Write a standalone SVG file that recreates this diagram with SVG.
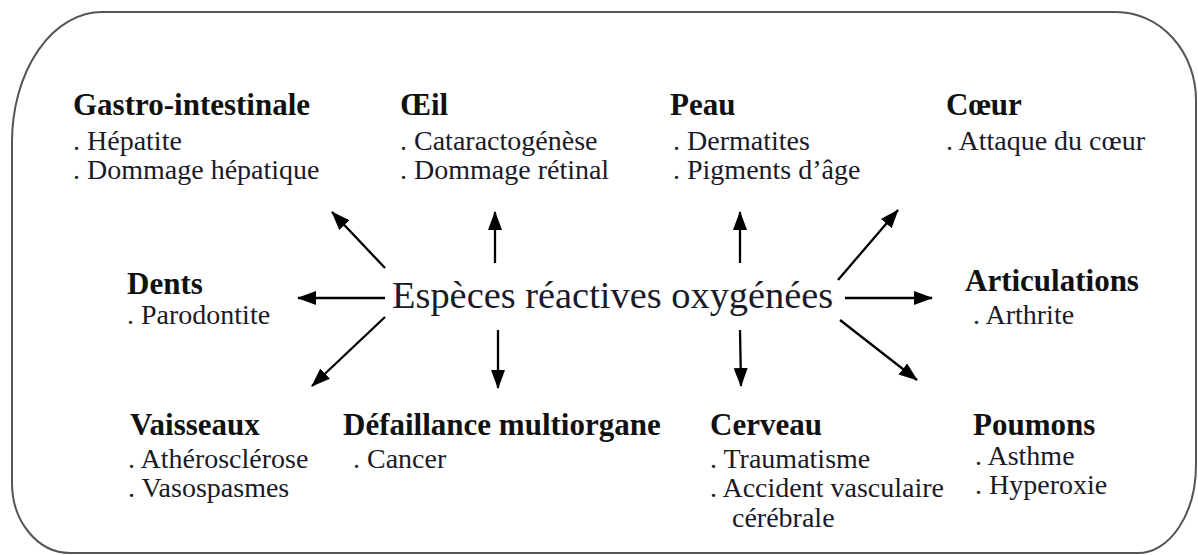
<svg xmlns="http://www.w3.org/2000/svg" width="1198" height="555" viewBox="0 0 1198 555">
  <defs>
    <marker id="ah" markerUnits="userSpaceOnUse" markerWidth="19" markerHeight="17" viewBox="0 0 19 17" refX="18" refY="8.5" orient="auto">
      <path d="M0,1.5 L19,8.5 L0,15.5 Z" fill="#000"/>
    </marker>
    <style>
      .h { font-family: "Liberation Serif", "Times New Roman", serif; font-weight: bold; font-size: 31px; fill: #111; }
      .i { font-family: "Liberation Serif", "Times New Roman", serif; font-size: 28px; fill: #1a1a28; }
      .c { font-family: "Liberation Serif", "Times New Roman", serif; font-size: 38.4px; fill: #1a1a28; }
      .arr line { stroke: #000; stroke-width: 2.3; marker-end: url(#ah); }
    </style>
  </defs>
  <rect width="1198" height="555" fill="#fff"/>
  <path id="frame" d="M102,12 H1116 A80,88 0 0 1 1196,100 V465 A58,88 0 0 1 1138,553 H70 A58,70 0 0 1 12,483 V142 A90,130 0 0 1 102,12 Z" fill="none" stroke="#555" stroke-width="2"/>

  <g id="center"><text class="c" x="392" y="308">Espèces réactives oxygénées</text></g>

  <g id="connectors" class="arr">
    <line x1="385" y1="268" x2="332" y2="212"/>
    <line x1="495" y1="263" x2="495" y2="212"/>
    <line x1="740" y1="263" x2="740" y2="212"/>
    <line x1="838" y1="280" x2="898" y2="210"/>
    <line x1="385" y1="298" x2="298" y2="298"/>
    <line x1="845" y1="298" x2="932" y2="298"/>
    <line x1="385" y1="317" x2="312" y2="386"/>
    <line x1="498" y1="330" x2="498" y2="388"/>
    <line x1="740" y1="330" x2="741" y2="386"/>
    <line x1="840" y1="320" x2="917" y2="380"/>
  </g>

  <g id="gastro">
    <text class="h" x="73" y="115">Gastro-intestinale</text>
    <text class="i" x="73" y="150">. Hépatite</text>
    <text class="i" x="73" y="179">. Dommage hépatique</text>
  </g>
  <g id="oeil">
    <text class="h" x="400" y="115">Œil</text>
    <text class="i" x="400" y="150">. Cataractogénèse</text>
    <text class="i" x="400" y="179">. Dommage rétinal</text>
  </g>
  <g id="peau">
    <text class="h" x="670" y="115">Peau</text>
    <text class="i" x="673" y="150">. Dermatites</text>
    <text class="i" x="673" y="179">. Pigments d’âge</text>
  </g>
  <g id="coeur">
    <text class="h" x="946" y="115">Cœur</text>
    <text class="i" x="946" y="150">. Attaque du cœur</text>
  </g>
  <g id="dents">
    <text class="h" x="127" y="294">Dents</text>
    <text class="i" x="127" y="324">. Parodontite</text>
  </g>
  <g id="articulations">
    <text class="h" x="965" y="291">Articulations</text>
    <text class="i" x="973" y="324">. Arthrite</text>
  </g>
  <g id="vaisseaux">
    <text class="h" x="130" y="435">Vaisseaux</text>
    <text class="i" x="128" y="468">. Athérosclérose</text>
    <text class="i" x="128" y="497">. Vasospasmes</text>
  </g>
  <g id="defaillance">
    <text class="h" x="343" y="435">Défaillance multiorgane</text>
    <text class="i" x="353" y="468">. Cancer</text>
  </g>
  <g id="cerveau">
    <text class="h" x="710" y="435">Cerveau</text>
    <text class="i" x="710" y="468">. Traumatisme</text>
    <text class="i" x="710" y="497">. Accident vasculaire</text>
    <text class="i" x="732" y="527">cérébrale</text>
  </g>
  <g id="poumons">
    <text class="h" x="973" y="435">Poumons</text>
    <text class="i" x="975" y="465">. Asthme</text>
    <text class="i" x="975" y="494">. Hyperoxie</text>
  </g>
</svg>
